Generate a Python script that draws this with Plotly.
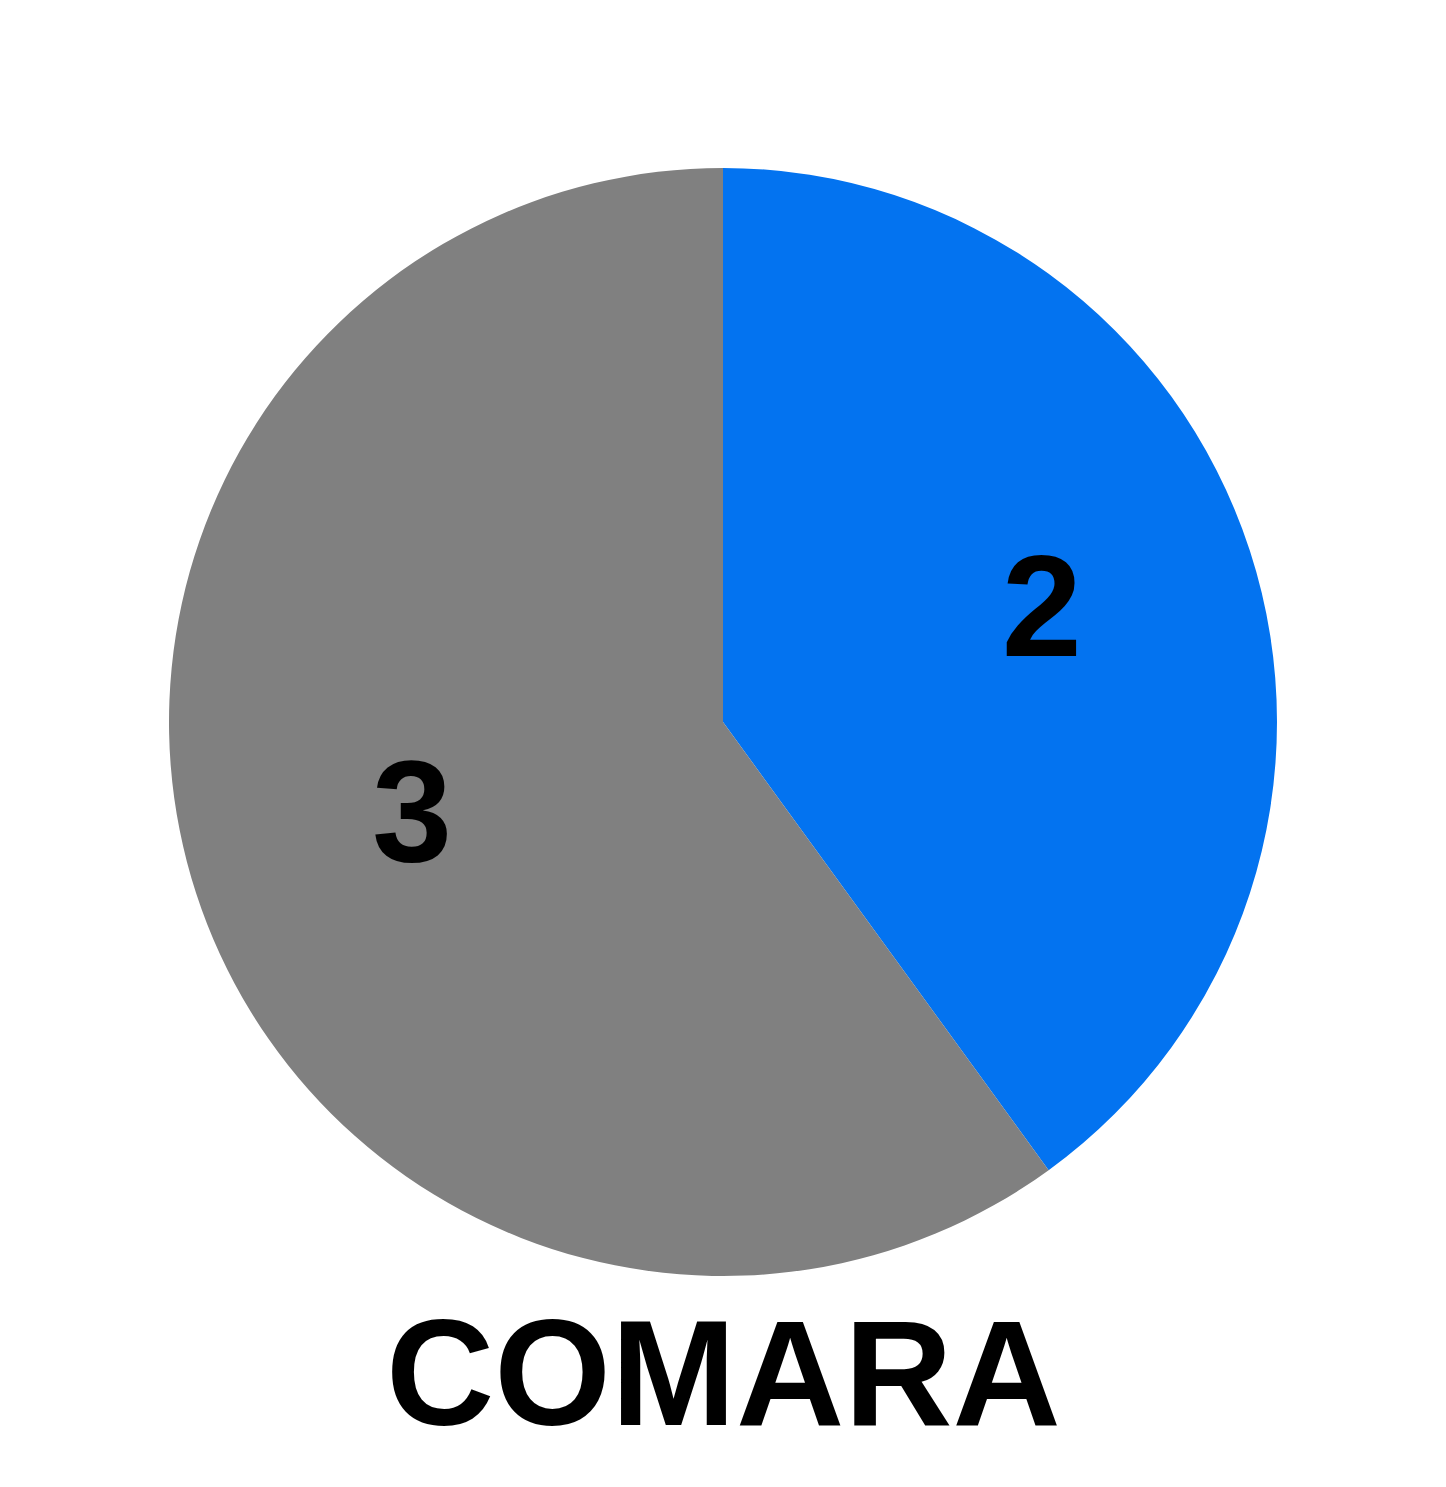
import plotly.graph_objects as go

labels = ["Blue", "Gray"]
values = [2, 3]
colors = ["#0373F0", "#808080"]
title_text = "COMARA"

W, H = 1446, 1487
cx, cy, r = 723, 722, 554          # visible pie
lcx, lcy, lr = 723, 710, 654       # transparent pie used only to place the value labels

font_family = "Liberation Sans, Arial, sans-serif"


def dom(x0, y0, rad):
    return dict(x=[(x0 - rad) / W, (x0 + rad) / W], y=[1 - (y0 + rad) / H, 1 - (y0 - rad) / H])


fig = go.Figure()

fig.add_trace(go.Pie(
    labels=labels,
    values=values,
    marker=dict(colors=colors, line=dict(width=0)),
    sort=False,
    direction="clockwise",
    rotation=0,
    textinfo="none",
    showlegend=False,
    hoverinfo="none",
    domain=dom(cx, cy, r),
))

fig.add_trace(go.Pie(
    labels=labels,
    values=values,
    marker=dict(colors=["rgba(0,0,0,0)"] * len(values), line=dict(width=0)),
    sort=False,
    direction="clockwise",
    rotation=0,
    textinfo="value",
    textposition="inside",
    insidetextorientation="horizontal",
    textfont=dict(family=font_family, size=144, color="black", weight="bold"),
    showlegend=False,
    hoverinfo="none",
    domain=dom(lcx, lcy, lr),
))

fig.add_annotation(
    text="<b>" + title_text + "</b>",
    x=0.5, y=1 - 1373 / H, xref="paper", yref="paper",
    xanchor="center", yanchor="middle", showarrow=False,
    font=dict(family=font_family, size=150, color="black"),
)

fig.update_layout(
    width=W, height=H,
    margin=dict(l=0, r=0, t=0, b=0),
    paper_bgcolor="white", plot_bgcolor="white",
)

fig.write_html("out.html")
